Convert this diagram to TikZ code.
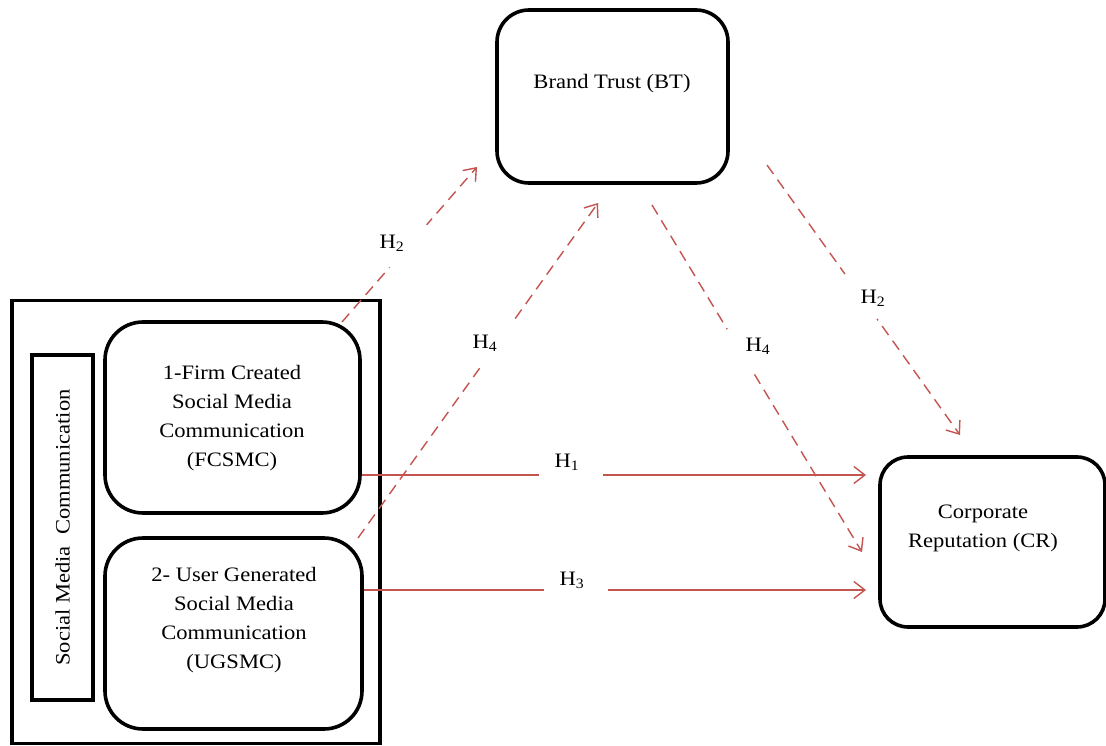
\documentclass[tikz,border=0pt]{standalone}
\usepackage{fontspec}
\setmainfont[FakeStretch=1.1]{Liberation Serif}
\usetikzlibrary{arrows.meta,calc}
\definecolor{arrowred}{RGB}{196,84,80}
\tikzset{
  box/.style={draw=black, line width=3.6pt, rounded corners=#1, inner sep=0pt},
  box/.default=32pt,
  txt/.style={align=center, font=\fontsize{20.5}{29}\selectfont, inner sep=0pt},
  rel/.style={draw=arrowred, line width=1.4pt, -{Straight Barb[length=11pt,width=17pt,line width=1.4pt]}},
  reldash/.style={rel, dash pattern=on 11pt off 7pt},
  gapnode/.style={fill=white, inner sep=0pt, minimum height=6pt, sloped},
  hlab/.style={font=\fontsize{20.5}{24}\selectfont, inner sep=0pt}
}
\begin{document}
\begin{tikzpicture}[x=1pt,y=-1pt]
\useasboundingbox (0,0) rectangle (1106,746);
\fill[white] (0,0) rectangle (1106,746);

% boxes
\node[draw=black, line width=3.6pt, minimum width=368pt, minimum height=443pt, inner sep=0pt] (smc) at (196,522) {};
\node[draw=black, line width=3.6pt, minimum width=61pt, minimum height=345pt, inner sep=0pt] (lab) at (62.5,527.5) {};
\node[box=38pt, minimum width=255pt, minimum height=191pt] (fc) at (232.5,417.5) {};
\node[box=38pt, minimum width=257pt, minimum height=191pt] (ug) at (233.5,633.5) {};
\node[box=32pt, minimum width=231pt, minimum height=173pt] (bt) at (612.5,96.5) {};
\node[box=28pt, minimum width=225pt, minimum height=170pt] (cr) at (992.5,542) {};

% texts
\node[txt, rotate=90] (labt) at (lab.center) {Social Media\ \ Communication};
\node[txt] (fct) at (232,418) {1-Firm Created\\Social Media\\Communication\\(FCSMC)};
\node[txt] (ugt) at (234,620) {2- User Generated\\Social Media\\Communication\\(UGSMC)};
\node[txt] (btt) at (612,84) {Brand Trust (BT)};
\node[txt] (crt) at (983,528) {Corporate\\Reputation (CR)};

% arrow end points
\coordinate (h1b) at (866,475);
\coordinate (h3b) at (866,590);
\coordinate (h2la) at (342,322);
\coordinate (h2lb) at (477,167);
\coordinate (h4la) at (358,538);
\coordinate (h4lb) at (598,203);
\coordinate (h4ra) at (652,205);
\coordinate (h4rb) at (862,552);
\coordinate (h2ra) at (767,165);
\coordinate (h2rb) at (960,435);

% connectors
\draw[rel] (fc.east |- h1b) -- node[gapnode, pos=0.415, minimum width=64pt]{} (h1b);
\draw[rel] (ug.east |- h3b) -- node[gapnode, pos=0.423, minimum width=64pt]{} (h3b);
\draw[reldash] (h2la) -- node[gapnode, pos=0.49, minimum width=56pt]{} (h2lb);
\draw[reldash] (h4la) -- node[gapnode, pos=0.58, minimum width=60pt]{} (h4lb);
\draw[reldash] (h4ra) -- node[gapnode, pos=0.42, minimum width=50pt]{} (h4rb);
\draw[reldash] (h2ra) -- node[gapnode, pos=0.487, minimum width=55pt]{} (h2rb);

% labels
\node[hlab] (l1) at (567,462) {H\textsubscript{1}};
\node[hlab] (l3) at (572,580) {H\textsubscript{3}};
\node[hlab] (l2a) at (392,243) {H\textsubscript{2}};
\node[hlab] (l4a) at (485,343) {H\textsubscript{4}};
\node[hlab] (l4b) at (758,346) {H\textsubscript{4}};
\node[hlab] (l2b) at (873,298) {H\textsubscript{2}};
\end{tikzpicture}
\end{document}
